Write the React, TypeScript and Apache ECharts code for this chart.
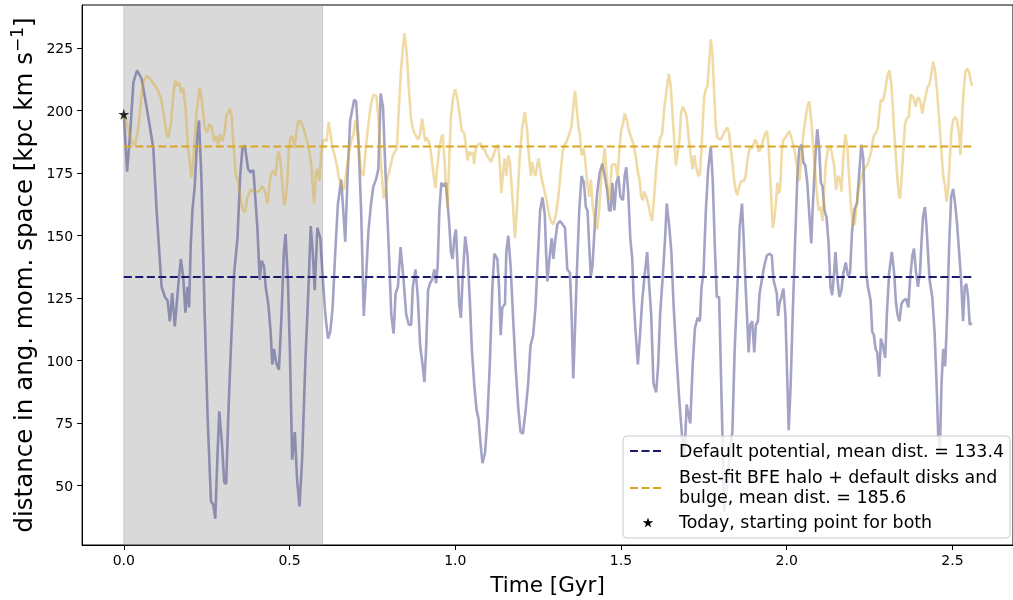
import React, { useEffect, useRef } from 'react';
import * as echarts from 'echarts';

const FONT = "'DejaVu Sans', sans-serif";

const xTicks = [0, 0.5, 1, 1.5, 2, 2.5];
const yTicks = [50, 75, 100, 125, 150, 175, 200, 225];
const meanDefault = 133.4;
const meanBestFit = 185.6;
const startPoint: [number, number] = [0, 198.5];
const shadedSpan = [0, 0.6];
const endTime = 2.557;

// [time in Gyr, distance in ang. mom. space]
const defaultPotential: [number, number][] = [
  [0.000, 198.5], [0.010, 175.5], [0.019, 190.5], [0.029, 211.2], [0.040, 216.1], [0.054, 212.6], [0.074, 197.4], [0.089, 184.9],
  [0.099, 160.0], [0.114, 129.5], [0.124, 125.4], [0.132, 124.0], [0.139, 115.7], [0.146, 127.0], [0.154, 113.6], [0.164, 129.5],
  [0.172, 140.6], [0.179, 133.7], [0.186, 119.1], [0.192, 129.5], [0.197, 121.2], [0.202, 146.1], [0.207, 160.0], [0.214, 169.7],
  [0.222, 190.5], [0.227, 196.0], [0.234, 173.8], [0.244, 118.4], [0.253, 76.9], [0.263, 43.7], [0.270, 42.3], [0.276, 36.7],
  [0.281, 56.1], [0.288, 79.7], [0.296, 67.2], [0.303, 51.3], [0.309, 50.6], [0.315, 76.9], [0.323, 104.6], [0.333, 135.1],
  [0.343, 148.9], [0.351, 173.8], [0.358, 184.9], [0.365, 186.0], [0.375, 176.6], [0.383, 175.2], [0.391, 176.2], [0.398, 162.8],
  [0.403, 153.1], [0.410, 132.3], [0.416, 139.9], [0.423, 137.8], [0.428, 129.5], [0.436, 122.6], [0.443, 111.5], [0.448, 98.4],
  [0.453, 104.6], [0.460, 99.1], [0.468, 96.3], [0.476, 118.4], [0.483, 143.4], [0.488, 150.6], [0.495, 132.3], [0.501, 104.6],
  [0.508, 60.3], [0.516, 71.4], [0.523, 52.0], [0.530, 41.6], [0.538, 60.3], [0.548, 100.4], [0.556, 125.4], [0.564, 153.8],
  [0.570, 143.4], [0.576, 128.1], [0.584, 153.1], [0.593, 148.9], [0.598, 137.8], [0.608, 118.4], [0.616, 108.8], [0.623, 111.5],
  [0.630, 121.2], [0.638, 143.4], [0.646, 162.8], [0.656, 172.4], [0.662, 160.0], [0.668, 147.5], [0.676, 176.6], [0.683, 196.0],
  [0.688, 199.5], [0.695, 204.3], [0.701, 203.6], [0.708, 187.7], [0.716, 160.0], [0.724, 117.8], [0.731, 133.7], [0.738, 151.7],
  [0.746, 162.8], [0.753, 169.7], [0.761, 172.4], [0.768, 176.6], [0.775, 206.8], [0.782, 201.5], [0.790, 173.8], [0.799, 146.1],
  [0.807, 118.4], [0.814, 110.8], [0.820, 126.8], [0.827, 129.5], [0.835, 145.4], [0.844, 132.3], [0.852, 118.4], [0.860, 114.3],
  [0.867, 114.3], [0.872, 129.5], [0.880, 136.4], [0.887, 125.4], [0.894, 106.0], [0.902, 97.7], [0.907, 91.4], [0.912, 104.6],
  [0.918, 128.1], [0.924, 130.9], [0.930, 132.3], [0.937, 136.4], [0.942, 130.9], [0.947, 137.8], [0.952, 160.0], [0.958, 171.1],
  [0.965, 169.7], [0.972, 171.1], [0.977, 162.8], [0.982, 154.4], [0.987, 143.4], [0.992, 140.6], [0.997, 148.9], [1.002, 152.4],
  [1.007, 137.8], [1.012, 122.6], [1.017, 117.1], [1.022, 132.3], [1.030, 149.6], [1.037, 142.0], [1.044, 124.0], [1.050, 104.6],
  [1.057, 90.8], [1.064, 80.4], [1.070, 76.9], [1.077, 65.8], [1.082, 58.9], [1.090, 63.1], [1.097, 76.9], [1.104, 97.7],
  [1.112, 129.5], [1.118, 142.7], [1.127, 140.6], [1.132, 129.5], [1.137, 110.1], [1.142, 121.2], [1.150, 122.6], [1.154, 143.4],
  [1.160, 149.9], [1.167, 137.8], [1.174, 118.4], [1.182, 97.7], [1.190, 81.1], [1.197, 71.4], [1.204, 70.7], [1.212, 79.7],
  [1.220, 90.8], [1.227, 106.0], [1.235, 110.1], [1.242, 121.2], [1.250, 143.4], [1.256, 160.0], [1.263, 165.2], [1.270, 158.6],
  [1.274, 143.4], [1.278, 131.6], [1.284, 140.6], [1.291, 148.9], [1.296, 140.6], [1.301, 147.5], [1.308, 154.4], [1.316, 155.8],
  [1.324, 154.4], [1.331, 153.1], [1.338, 136.4], [1.346, 135.1], [1.351, 118.4], [1.356, 92.8], [1.361, 111.5], [1.366, 132.3],
  [1.374, 160.0], [1.381, 173.8], [1.388, 171.1], [1.394, 161.4], [1.399, 160.0], [1.404, 146.1], [1.409, 133.7], [1.414, 137.8],
  [1.421, 154.4], [1.428, 166.9], [1.436, 175.2], [1.444, 178.7], [1.451, 173.8], [1.458, 168.3], [1.464, 160.0], [1.469, 160.0],
  [1.474, 171.1], [1.480, 160.0], [1.486, 171.1], [1.492, 173.8], [1.498, 165.5], [1.506, 164.1], [1.511, 173.8], [1.516, 177.3],
  [1.522, 166.9], [1.528, 148.9], [1.534, 140.6], [1.538, 125.4], [1.544, 111.5], [1.551, 98.4], [1.558, 111.5], [1.564, 124.0],
  [1.571, 133.7], [1.579, 143.4], [1.584, 132.3], [1.591, 118.4], [1.598, 90.8], [1.606, 87.3], [1.612, 97.7], [1.618, 118.4],
  [1.626, 133.7], [1.633, 148.9], [1.638, 162.8], [1.646, 153.1], [1.652, 143.4], [1.658, 124.0], [1.666, 104.6], [1.676, 83.8],
  [1.684, 70.0], [1.691, 60.3], [1.698, 82.4], [1.709, 74.8], [1.716, 97.7], [1.723, 112.9], [1.731, 117.1], [1.738, 115.7],
  [1.743, 129.5], [1.749, 135.1], [1.756, 160.0], [1.763, 176.6], [1.771, 185.6], [1.777, 171.1], [1.783, 146.1], [1.789, 125.4],
  [1.796, 125.4], [1.801, 97.7], [1.806, 70.0], [1.811, 39.5], [1.819, 49.2], [1.828, 63.1], [1.836, 71.4], [1.843, 104.6],
  [1.852, 132.3], [1.858, 153.1], [1.865, 162.8], [1.870, 148.9], [1.875, 132.3], [1.880, 118.4], [1.885, 103.2], [1.890, 114.3],
  [1.896, 115.7], [1.902, 103.2], [1.907, 114.3], [1.913, 115.7], [1.918, 126.8], [1.925, 132.3], [1.932, 137.8], [1.940, 142.0],
  [1.948, 142.7], [1.955, 142.0], [1.960, 132.3], [1.965, 129.5], [1.970, 126.8], [1.974, 117.8], [1.978, 122.6], [1.984, 125.4],
  [1.990, 128.8], [1.996, 118.4], [2.002, 90.8], [2.006, 72.1], [2.012, 90.8], [2.018, 118.4], [2.025, 146.1], [2.032, 173.8],
  [2.038, 184.9], [2.045, 186.3], [2.050, 179.4], [2.056, 178.0], [2.062, 171.1], [2.068, 158.6], [2.074, 146.8], [2.078, 160.0],
  [2.086, 180.8], [2.092, 192.5], [2.098, 184.9], [2.103, 171.1], [2.108, 169.7], [2.114, 160.0], [2.120, 157.2], [2.126, 147.5],
  [2.132, 129.5], [2.137, 126.1], [2.143, 135.1], [2.147, 143.4], [2.153, 132.3], [2.159, 125.4], [2.165, 128.1], [2.171, 135.1],
  [2.178, 139.2], [2.185, 133.7], [2.191, 135.1], [2.197, 151.7], [2.205, 160.7], [2.212, 162.8], [2.218, 173.8], [2.225, 186.3],
  [2.231, 180.8], [2.235, 160.0], [2.240, 135.1], [2.245, 129.5], [2.253, 124.0], [2.258, 111.5], [2.263, 110.1], [2.268, 104.6],
  [2.273, 103.2], [2.279, 93.5], [2.284, 108.8], [2.290, 106.0], [2.297, 101.1], [2.302, 118.4], [2.309, 135.1], [2.317, 143.4],
  [2.324, 135.1], [2.329, 124.0], [2.334, 118.4], [2.340, 115.7], [2.346, 122.6], [2.352, 124.0], [2.360, 124.7], [2.367, 121.2],
  [2.372, 132.3], [2.379, 142.0], [2.384, 144.8], [2.390, 135.1], [2.396, 129.5], [2.402, 135.1], [2.406, 146.1], [2.411, 157.2],
  [2.417, 161.4], [2.422, 153.1], [2.426, 143.4], [2.431, 132.3], [2.439, 125.4], [2.446, 111.5], [2.452, 90.8], [2.457, 70.0],
  [2.462, 64.4], [2.467, 90.8], [2.472, 104.6], [2.478, 97.7], [2.484, 118.4], [2.490, 146.1], [2.496, 165.5], [2.502, 168.6],
  [2.508, 162.8], [2.514, 154.4], [2.520, 143.4], [2.526, 132.3], [2.532, 115.7], [2.537, 129.5], [2.542, 130.6], [2.547, 125.4],
  [2.552, 114.3], [2.559, 115.0],
];

const bestFitHalo: [number, number][] = [
  [0.000, 198.5], [0.004, 197.4], [0.012, 193.2], [0.019, 189.8], [0.026, 187.0], [0.034, 186.3], [0.044, 193.2], [0.052, 204.3],
  [0.059, 211.2], [0.069, 214.0], [0.084, 211.9], [0.099, 209.1], [0.112, 205.0], [0.122, 197.4], [0.129, 190.5], [0.134, 189.1],
  [0.142, 194.6], [0.149, 205.7], [0.155, 211.9], [0.161, 209.8], [0.167, 211.2], [0.173, 207.1], [0.179, 209.1], [0.186, 201.5],
  [0.194, 184.9], [0.204, 173.1], [0.210, 180.8], [0.219, 198.8], [0.229, 209.1], [0.236, 203.6], [0.244, 193.2], [0.251, 191.1],
  [0.258, 194.6], [0.265, 193.5], [0.273, 187.7], [0.279, 189.8], [0.285, 186.3], [0.291, 190.5], [0.297, 187.7], [0.305, 191.8],
  [0.310, 198.5], [0.315, 199.0], [0.320, 200.8], [0.325, 198.1], [0.331, 186.3], [0.338, 173.8], [0.345, 171.8], [0.353, 164.1],
  [0.360, 160.0], [0.366, 159.3], [0.373, 165.5], [0.383, 168.3], [0.398, 167.6], [0.408, 167.6], [0.418, 169.7], [0.426, 167.6],
  [0.434, 162.8], [0.440, 171.1], [0.446, 175.2], [0.453, 175.9], [0.458, 173.8], [0.464, 182.1], [0.468, 183.5], [0.473, 179.4],
  [0.478, 171.1], [0.483, 162.8], [0.486, 162.1], [0.493, 171.1], [0.498, 184.9], [0.504, 189.8], [0.510, 189.1], [0.515, 184.9],
  [0.520, 190.5], [0.526, 195.3], [0.531, 196.0], [0.538, 194.6], [0.546, 191.1], [0.553, 187.7], [0.560, 183.5], [0.566, 178.0],
  [0.570, 169.7], [0.574, 162.8], [0.580, 175.2], [0.585, 176.6], [0.590, 171.8], [0.595, 182.1], [0.601, 187.7], [0.606, 188.4],
  [0.612, 187.7], [0.618, 195.3], [0.624, 190.5], [0.630, 184.9], [0.636, 182.1], [0.643, 178.0], [0.650, 172.4], [0.658, 169.7],
  [0.664, 168.3], [0.670, 173.8], [0.678, 182.1], [0.686, 187.7], [0.693, 190.5], [0.698, 196.0], [0.704, 191.8], [0.710, 183.5],
  [0.716, 175.2], [0.723, 173.8], [0.730, 184.9], [0.738, 194.6], [0.746, 202.9], [0.754, 206.4], [0.762, 205.7], [0.768, 197.4],
  [0.774, 183.5], [0.780, 171.1], [0.785, 164.8], [0.790, 168.3], [0.797, 173.8], [0.805, 178.0], [0.812, 182.1], [0.818, 183.5],
  [0.824, 184.9], [0.830, 201.5], [0.836, 215.4], [0.843, 226.5], [0.847, 230.9], [0.854, 222.3], [0.860, 208.5], [0.867, 196.0],
  [0.874, 191.8], [0.882, 189.8], [0.888, 188.4], [0.894, 190.5], [0.900, 196.7], [0.904, 193.2], [0.909, 187.7], [0.914, 189.1],
  [0.920, 187.7], [0.925, 184.9], [0.930, 179.4], [0.935, 173.8], [0.940, 169.0], [0.945, 176.6], [0.952, 184.9], [0.958, 189.1],
  [0.962, 190.5], [0.968, 179.4], [0.972, 168.3], [0.977, 161.4], [0.982, 180.8], [0.987, 197.4], [0.994, 205.7], [1.000, 208.5],
  [1.007, 204.3], [1.014, 197.4], [1.020, 191.8], [1.027, 191.1], [1.032, 186.3], [1.037, 180.1], [1.042, 183.5], [1.047, 182.1],
  [1.052, 183.5], [1.057, 178.7], [1.062, 184.9], [1.069, 186.3], [1.076, 187.0], [1.082, 184.9], [1.089, 184.2], [1.095, 182.1],
  [1.102, 180.8], [1.108, 179.4], [1.115, 182.1], [1.122, 184.9], [1.129, 186.3], [1.134, 179.4], [1.139, 166.9], [1.144, 175.2],
  [1.149, 180.8], [1.154, 173.8], [1.160, 182.1], [1.165, 179.4], [1.170, 169.7], [1.175, 160.0], [1.180, 148.9], [1.187, 162.8],
  [1.194, 180.8], [1.202, 193.2], [1.210, 199.4], [1.217, 191.8], [1.222, 182.1], [1.228, 173.8], [1.232, 179.4], [1.237, 175.2],
  [1.242, 173.8], [1.247, 178.0], [1.251, 180.8], [1.256, 176.6], [1.261, 172.4], [1.266, 169.7], [1.273, 165.5], [1.281, 160.0],
  [1.288, 155.8], [1.296, 154.4], [1.304, 158.6], [1.311, 165.5], [1.318, 175.2], [1.324, 183.5], [1.330, 186.3], [1.336, 187.7],
  [1.344, 190.5], [1.351, 193.9], [1.356, 201.5], [1.361, 207.8], [1.366, 201.5], [1.372, 193.2], [1.376, 190.5], [1.381, 182.1],
  [1.386, 184.9], [1.391, 181.4], [1.398, 171.1], [1.404, 165.5], [1.409, 172.4], [1.414, 162.8], [1.421, 155.8], [1.428, 152.4],
  [1.434, 160.0], [1.441, 173.8], [1.446, 179.4], [1.451, 184.9], [1.456, 175.2], [1.462, 165.5], [1.466, 164.1], [1.472, 178.0],
  [1.478, 178.7], [1.484, 178.0], [1.490, 173.8], [1.494, 182.1], [1.500, 191.8], [1.506, 194.6], [1.511, 198.8], [1.518, 196.0],
  [1.524, 191.8], [1.531, 189.1], [1.538, 186.3], [1.544, 182.1], [1.551, 175.2], [1.556, 172.4], [1.561, 165.5], [1.566, 164.1],
  [1.570, 167.6], [1.576, 165.5], [1.582, 162.8], [1.588, 158.6], [1.594, 155.8], [1.600, 165.5], [1.606, 176.6], [1.612, 184.9],
  [1.618, 189.1], [1.624, 190.5], [1.631, 201.5], [1.638, 208.5], [1.644, 214.7], [1.650, 209.8], [1.656, 197.4], [1.662, 184.9],
  [1.666, 178.0], [1.671, 183.5], [1.676, 187.7], [1.681, 198.8], [1.686, 201.5], [1.692, 200.1], [1.698, 197.4], [1.704, 189.1],
  [1.709, 183.5], [1.716, 176.6], [1.721, 182.1], [1.726, 178.0], [1.733, 173.8], [1.738, 174.5], [1.743, 184.9], [1.747, 196.0],
  [1.751, 205.7], [1.756, 208.5], [1.761, 209.8], [1.766, 219.5], [1.771, 228.5], [1.776, 222.3], [1.781, 207.1], [1.786, 193.2],
  [1.791, 189.1], [1.801, 188.4], [1.811, 191.1], [1.821, 193.2], [1.826, 191.1], [1.831, 184.9], [1.836, 179.4], [1.841, 172.4],
  [1.846, 168.3], [1.851, 166.2], [1.857, 169.7], [1.863, 171.8], [1.871, 171.8], [1.876, 173.8], [1.882, 180.8], [1.888, 184.9],
  [1.895, 184.9], [1.900, 186.3], [1.905, 188.4], [1.910, 187.0], [1.916, 183.5], [1.922, 184.9], [1.928, 187.7], [1.934, 190.5],
  [1.940, 191.8], [1.945, 186.3], [1.950, 173.8], [1.955, 160.0], [1.958, 153.1], [1.963, 157.2], [1.968, 164.1], [1.972, 171.1],
  [1.976, 166.9], [1.980, 168.3], [1.985, 183.5], [1.990, 188.4], [1.996, 189.1], [2.002, 190.5], [2.008, 191.8], [2.014, 189.1],
  [2.020, 186.3], [2.026, 182.1], [2.032, 176.6], [2.038, 171.8], [2.043, 179.4], [2.050, 190.5], [2.056, 196.0], [2.062, 201.5],
  [2.068, 203.6], [2.074, 196.0], [2.080, 184.9], [2.085, 176.6], [2.090, 168.3], [2.096, 160.0], [2.102, 161.4], [2.108, 155.8],
  [2.112, 165.5], [2.118, 179.4], [2.125, 184.9], [2.132, 185.6], [2.143, 178.0], [2.149, 168.3], [2.155, 173.8], [2.161, 172.4],
  [2.165, 167.6], [2.171, 182.1], [2.177, 190.5], [2.183, 184.9], [2.188, 173.8], [2.193, 162.8], [2.199, 154.4], [2.205, 154.4],
  [2.211, 162.8], [2.217, 168.3], [2.223, 172.4], [2.230, 175.2], [2.237, 177.3], [2.243, 178.0], [2.249, 180.8], [2.255, 183.5],
  [2.260, 188.4], [2.265, 190.5], [2.270, 191.1], [2.275, 193.2], [2.280, 200.1], [2.284, 204.3], [2.289, 203.6], [2.294, 205.7],
  [2.299, 209.8], [2.304, 214.0], [2.310, 216.1], [2.316, 209.8], [2.320, 201.5], [2.324, 191.8], [2.329, 182.1], [2.334, 172.4],
  [2.339, 165.5], [2.342, 164.8], [2.347, 173.8], [2.352, 184.9], [2.357, 194.6], [2.362, 196.7], [2.368, 197.4], [2.374, 206.4],
  [2.379, 205.7], [2.384, 204.3], [2.389, 201.5], [2.394, 205.0], [2.399, 205.0], [2.404, 202.9], [2.409, 198.8], [2.414, 202.9],
  [2.419, 205.7], [2.424, 209.1], [2.431, 210.5], [2.437, 215.4], [2.442, 219.5], [2.448, 215.4], [2.454, 207.1], [2.460, 196.0],
  [2.466, 184.9], [2.472, 173.8], [2.478, 169.7], [2.482, 163.4], [2.487, 168.3], [2.492, 180.8], [2.497, 191.8], [2.502, 196.0],
  [2.508, 197.4], [2.514, 196.0], [2.520, 190.5], [2.524, 182.1], [2.529, 197.4], [2.534, 208.5], [2.539, 215.4], [2.544, 216.8],
  [2.550, 215.4], [2.554, 212.6], [2.559, 209.8],
];

const labelDefault = `Default potential, mean dist. = ${meanDefault}`;
const labelBestFit = `Best-fit BFE halo + default disks and\nbulge, mean dist. = ${meanBestFit}`;
const labelStart = 'Today, starting point for both';

const BLUE = '#191970';
const GOLD = '#daa520';
const STAR_PATH =
  'path://M10 0L12.245 6.91L19.511 6.91L13.633 11.18L15.878 18.09L10 13.82L4.122 18.09L6.367 11.18L0.489 6.91L7.755 6.91Z';

function starPoints(cx: number, cy: number, r: number): number[][] {
  const pts: number[][] = [];
  for (let i = 0; i < 10; i++) {
    const rr = i % 2 === 0 ? r : r * 0.382;
    const a = -Math.PI / 2 + (i * Math.PI) / 5;
    pts.push([cx + rr * Math.cos(a), cy + rr * Math.sin(a)]);
  }
  return pts;
}

export default function App() {
  const ref = useRef<HTMLDivElement>(null);

  useEffect(() => {
    if (!ref.current) return;
    const chart = echarts.init(ref.current, undefined, { renderer: 'svg' });
    const tickText = { fontFamily: FONT, fontSize: 14, color: '#000' };

    chart.setOption({
      animation: false,
      grid: {
        left: 80,
        right: -5,
        top: 5,
        bottom: 53,
        show: true,
        borderColor: '#000',
        borderWidth: 1,
        backgroundColor: 'transparent',
      },
      xAxis: {
        type: 'value',
        min: -0.1257,
        max: 2.6826,
        splitLine: { show: false },
        axisLine: { show: true, onZero: false, lineStyle: { color: '#000', width: 1 } },
        axisTick: { show: true, customValues: xTicks, length: 5, lineStyle: { color: '#000', width: 1 } },
        axisLabel: { ...tickText, customValues: xTicks, margin: 8, formatter: (v: number) => v.toFixed(1) },
        name: 'Time [Gyr]',
        nameLocation: 'middle',
        nameGap: 28,
        nameTextStyle: { fontFamily: FONT, fontSize: 21.5, color: '#000' },
      },
      yAxis: {
        type: 'value',
        min: 26.2,
        max: 242.2,
        splitLine: { show: false },
        axisLine: { show: true, onZero: false, lineStyle: { color: '#000', width: 1 } },
        axisTick: { show: true, customValues: yTicks, length: 5, lineStyle: { color: '#000', width: 1 } },
        axisLabel: { ...tickText, customValues: yTicks, margin: 9 },
        name: 'distance in ang. mom. space [kpc km s{sup|\u22121}]',
        nameLocation: 'middle',
        nameGap: 36,
        nameTextStyle: {
          fontFamily: FONT,
          fontSize: 24.5,
          color: '#000',
          rich: {
            sup: { fontFamily: FONT, fontSize: 17, color: '#000', verticalAlign: 'top', lineHeight: 30 },
          },
        },
      },
      series: [
        {
          type: 'line',
          data: [],
          z: 1,
          silent: true,
          markArea: {
            silent: true,
            itemStyle: { color: 'rgba(128,128,128,0.3)', borderColor: 'rgba(128,128,128,0.3)', borderWidth: 1 },
            data: [[{ xAxis: shadedSpan[0] }, { xAxis: shadedSpan[1] }]],
          },
        },
        {
          type: 'line',
          name: 'default',
          data: defaultPotential,
          showSymbol: false,
          z: 2,
          lineStyle: { color: 'rgba(25,25,112,0.4)', width: 2.6 },
          itemStyle: { color: 'rgba(25,25,112,0.4)' },
        },
        {
          type: 'line',
          name: 'bestfit',
          data: bestFitHalo,
          showSymbol: false,
          z: 3,
          lineStyle: { color: 'rgba(218,165,32,0.4)', width: 2.6 },
          itemStyle: { color: 'rgba(218,165,32,0.4)' },
        },
        {
          type: 'line',
          data: [[0, meanDefault], [endTime, meanDefault]],
          showSymbol: false,
          z: 4,
          lineStyle: { color: BLUE, width: 2, type: [8, 3.5] },
        },
        {
          type: 'line',
          data: [[0, meanBestFit], [endTime, meanBestFit]],
          showSymbol: false,
          z: 4,
          lineStyle: { color: GOLD, width: 2, type: [8, 3.5] },
        },
        {
          type: 'scatter',
          data: [startPoint],
          symbol: STAR_PATH,
          symbolSize: 11,
          z: 6,
          itemStyle: { color: '#000' },
        },
      ],
      graphic: [
        {
          type: 'rect',
          z: 100,
          shape: { x: 623, y: 436, width: 387, height: 102, r: 4 },
          style: { fill: 'rgba(255,255,255,0.8)', stroke: '#cccccc', lineWidth: 1 },
        },
        {
          type: 'line',
          z: 101,
          shape: { x1: 630, y1: 451, x2: 664, y2: 451 },
          style: { stroke: BLUE, lineWidth: 2, lineDash: [8, 3.5] },
        },
        {
          type: 'line',
          z: 101,
          shape: { x1: 630, y1: 488, x2: 664, y2: 488 },
          style: { stroke: GOLD, lineWidth: 2, lineDash: [8, 3.5] },
        },
        {
          type: 'polygon',
          z: 101,
          shape: { points: starPoints(648, 523, 5.5) },
          style: { fill: '#000' },
        },
        {
          type: 'text',
          z: 101,
          x: 679,
          y: 451,
          style: { text: labelDefault, fontFamily: FONT, fontSize: 17.4, fill: '#000', verticalAlign: 'middle' },
        },
        {
          type: 'text',
          z: 101,
          x: 679,
          y: 487,
          style: { text: labelBestFit, fontFamily: FONT, fontSize: 17.4, lineHeight: 19.5, fill: '#000', verticalAlign: 'middle' },
        },
        {
          type: 'text',
          z: 101,
          x: 679,
          y: 522,
          style: { text: labelStart, fontFamily: FONT, fontSize: 17.4, fill: '#000', verticalAlign: 'middle' },
        },
      ],
    });

    return () => chart.dispose();
  }, []);

  return <div ref={ref} style={{ position: 'fixed', left: 0, top: 0, width: 1013, height: 600 }} />;
}
